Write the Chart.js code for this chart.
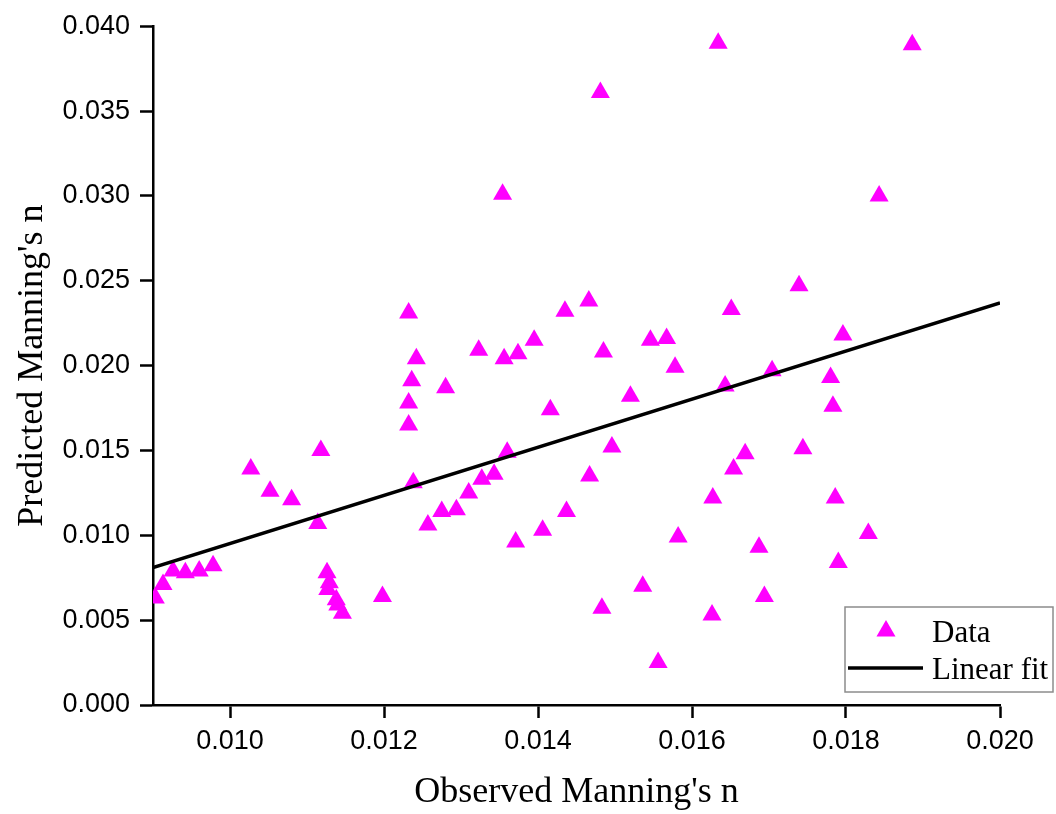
<!DOCTYPE html>
<html lang="en">
<head>
<meta charset="UTF-8">
<title>Observed vs Predicted Manning's n</title>
<script src="https://cdn.jsdelivr.net/npm/chart.js"></script>
<style>
    body { margin: 0; background: #ffffff; }
    .box { width: 1056px; height: 814px; }
</style>
</head>
<body>
<div class="box">
    <canvas id="scatterChart" width="1056" height="814"></canvas>
</div>
<script>
// observed / predicted Manning's n
const observedN = [
    0.00903, 0.00913, 0.00926, 0.00942, 0.00960, 0.00978, 0.01027, 0.01052, 0.01080, 0.01118,
    0.01114, 0.01126, 0.01129, 0.01127, 0.01138, 0.01140, 0.01146, 0.01198, 0.01232, 0.01236,
    0.01232, 0.01232, 0.01238, 0.01242, 0.01280, 0.01257, 0.01275, 0.01294, 0.01310, 0.01327,
    0.01343, 0.01323, 0.01354, 0.01356, 0.01360, 0.01371, 0.01374, 0.01395, 0.01406, 0.01416,
    0.01435, 0.01437, 0.01466, 0.01467, 0.01481, 0.01485, 0.01483, 0.01496, 0.01520, 0.01536,
    0.01546, 0.01556, 0.01567, 0.01578, 0.01582, 0.01627, 0.01626, 0.01634, 0.01643, 0.01651,
    0.01654, 0.01669, 0.01687, 0.01694, 0.01704, 0.01739, 0.01744, 0.01780, 0.01783, 0.01786,
    0.01790, 0.01796, 0.01829, 0.01843, 0.01886
];
const predictedN = [
    0.0063, 0.0071, 0.0079, 0.0078, 0.0079, 0.0082, 0.0139, 0.0126, 0.0121, 0.0150,
    0.0107, 0.0078, 0.0072, 0.0068, 0.0062, 0.0059, 0.0054, 0.0064, 0.0231, 0.0191,
    0.0178, 0.0165, 0.0131, 0.0204, 0.0187, 0.0106, 0.0114, 0.0115, 0.0125, 0.0133,
    0.0136, 0.0209, 0.0301, 0.0204, 0.0149, 0.0096, 0.0207, 0.0215, 0.0103, 0.0174,
    0.0232, 0.0114, 0.0238, 0.0135, 0.0361, 0.0208, 0.0057, 0.0152, 0.0182, 0.0070,
    0.0215, 0.0025, 0.0216, 0.0199, 0.0099, 0.0122, 0.0053, 0.0390, 0.0188, 0.0233,
    0.0139, 0.0148, 0.0093, 0.0064, 0.0197, 0.0247, 0.0151, 0.0193, 0.0176, 0.0122,
    0.0084, 0.0218, 0.0101, 0.0300, 0.0389
];

// linear fit end points
const fitX = [0.009, 0.020];
const fitY = [0.0081, 0.0237];

const xTicks = [0.010, 0.012, 0.014, 0.016, 0.018, 0.020];
const yTicks = [0.000, 0.005, 0.010, 0.015, 0.020, 0.025, 0.030, 0.035, 0.040];

const legendLabels = ['Data', 'Linear fit'];

const points = observedN.map((x, i) => ({ x: x, y: predictedN[i] }));
const fitLine = fitX.map((x, i) => ({ x: x, y: fitY[i] }));

const tickFont = { family: "'Liberation Sans', Arial, sans-serif", size: 27 };
const titleFont = { family: "'Liberation Serif', 'Times New Roman', serif", size: 36 };

// legend box in the lower right corner
const boxLegend = {
    id: 'boxLegend',
    afterDraw(chart) {
        const ctx = chart.ctx;
        const area = chart.chartArea;
        const left = area.right - 155, top = area.bottom - 98;
        const w = 208, h = 85;
        ctx.save();
        ctx.fillStyle = '#ffffff';
        ctx.fillRect(left, top, w, h);
        ctx.strokeStyle = '#8c8c8c';
        ctx.lineWidth = 1.5;
        ctx.strokeRect(left, top, w, h);

        const dataDs = chart.data.datasets[1];
        const fitDs = chart.data.datasets[0];
        ctx.fillStyle = dataDs.backgroundColor;
        Chart.helpers.drawPoint(ctx, {
            pointStyle: 'triangle', radius: dataDs.pointRadius, rotation: 0, borderWidth: 0
        }, left + 41, top + 24);

        ctx.strokeStyle = fitDs.borderColor;
        ctx.lineWidth = fitDs.borderWidth;
        ctx.beginPath();
        ctx.moveTo(left + 3, top + 61);
        ctx.lineTo(left + 78, top + 61);
        ctx.stroke();

        ctx.fillStyle = '#000000';
        ctx.font = "31px 'Liberation Serif', 'Times New Roman', serif";
        ctx.textBaseline = 'alphabetic';
        ctx.textAlign = 'left';
        ctx.fillText(legendLabels[0], left + 87, top + 35);
        ctx.fillText(legendLabels[1], left + 87, top + 72);
        ctx.restore();
    }
};

new Chart(document.getElementById('scatterChart'), {
    type: 'scatter',
    data: {
        datasets: [
            {
                type: 'line',
                label: legendLabels[1],
                data: fitLine,
                borderColor: '#000000',
                borderWidth: 3.5,
                pointRadius: 0,
                fill: false
            },
            {
                label: legendLabels[0],
                data: points,
                pointStyle: 'triangle',
                pointRadius: 11,
                backgroundColor: '#ff00ff',
                borderWidth: 0
            }
        ]
    },
    options: {
        responsive: false,
        animation: false,
        layout: { padding: { left: 0, top: 25, right: 56, bottom: 0 } },
        plugins: {
            legend: { display: false },
            tooltip: { enabled: false }
        },
        scales: {
            x: {
                type: 'linear',
                min: 0.009,
                max: 0.020,
                afterFit: scale => { scale.height = 109; },
                afterBuildTicks: scale => { scale.ticks = xTicks.map(v => ({ value: v })); },
                ticks: {
                    color: '#000000',
                    font: tickFont,
                    padding: 7,
                    maxRotation: 0,
                    callback: v => v.toFixed(3)
                },
                grid: {
                    drawOnChartArea: false,
                    tickLength: 13,
                    tickWidth: 2.5,
                    tickColor: '#000000'
                },
                border: { color: '#000000', width: 2.5 },
                title: {
                    display: true,
                    text: "Observed Manning's n",
                    color: '#000000',
                    font: titleFont,
                    padding: { top: 0, bottom: 0 }
                }
            },
            y: {
                type: 'linear',
                min: 0,
                max: 0.040,
                afterFit: scale => { scale.width = 153; },
                afterBuildTicks: scale => { scale.ticks = yTicks.map(v => ({ value: v })); },
                ticks: {
                    color: '#000000',
                    font: tickFont,
                    padding: 10,
                    callback: v => v.toFixed(3)
                },
                grid: {
                    drawOnChartArea: false,
                    tickLength: 13,
                    tickWidth: 2.5,
                    tickColor: '#000000'
                },
                border: { color: '#000000', width: 2.5 },
                title: {
                    display: true,
                    text: "Predicted Manning's n",
                    color: '#000000',
                    font: titleFont,
                    padding: { top: 11, bottom: 0 }
                }
            }
        }
    },
    plugins: [boxLegend]
});
</script>
</body>
</html>
